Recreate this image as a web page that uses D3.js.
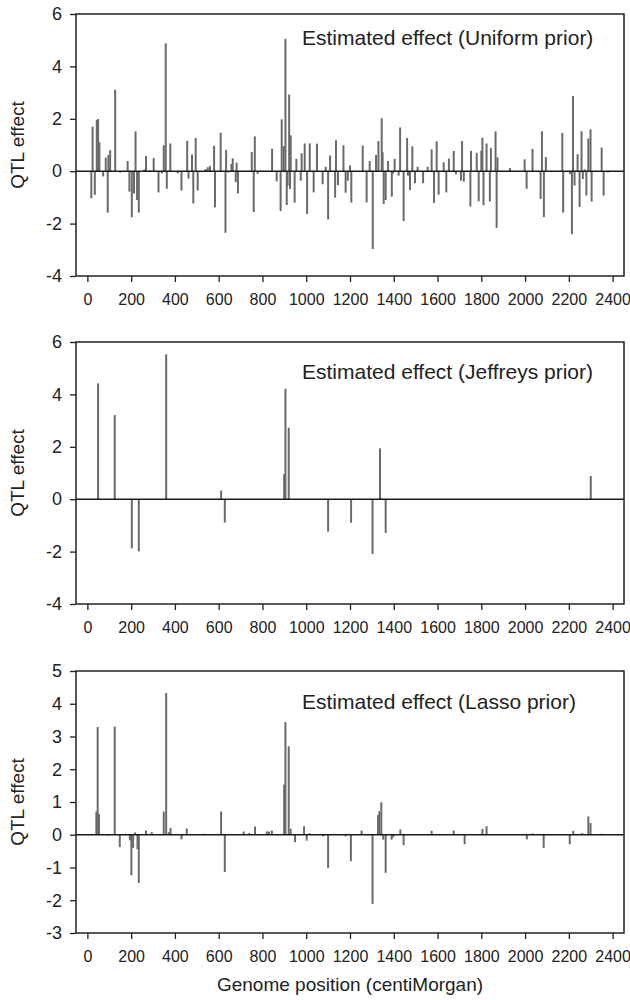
<!DOCTYPE html>
<html>
<head>
<meta charset="utf-8">
<script src="https://cdn.jsdelivr.net/npm/d3@7"></script>
<style>
  body { margin: 0; background: #fff; }
  svg { display: block; font-family: "Liberation Sans", Arial, sans-serif; }
</style>
</head>
<body>
<div id="vis"></div>
<script>
// genome positions (cM) and estimated QTL effects
const uniformPos = [18, 24, 34, 43, 49, 55, 72, 84, 93, 96, 104, 127, 150, 184, 192, 203, 213, 220, 227, 235,
  260, 268, 285, 303, 325, 341, 349, 358, 363, 379, 413, 430, 456, 462, 478, 484, 495, 504, 540, 550, 560,
  579, 583, 609, 631, 634, 643, 658, 664, 678, 682, 688, 751, 760, 765, 778, 844, 865, 883, 888, 897, 905,
  911, 915, 922, 926, 929, 947, 955, 975, 979, 993, 1004, 1016, 1034, 1049, 1075, 1089, 1100, 1109, 1132,
  1136, 1145, 1170, 1180, 1190, 1200, 1206, 1258, 1276, 1290, 1304, 1319, 1330, 1345, 1349, 1354, 1363,
  1374, 1391, 1396, 1404, 1422, 1429, 1445, 1461, 1465, 1474, 1485, 1497, 1509, 1534, 1555, 1573, 1584,
  1596, 1605, 1628, 1640, 1652, 1674, 1684, 1707, 1712, 1720, 1750, 1753, 1779, 1788, 1800, 1805, 1810,
  1824, 1839, 1844, 1865, 1870, 1874, 1931, 1998, 2007, 2034, 2071, 2077, 2086, 2095, 2170, 2174, 2205,
  2214, 2219, 2226, 2240, 2249, 2258, 2264, 2272, 2280, 2289, 2299, 2304, 2350, 2359, 2378];
const uniformEff = [-1.03, 1.7, -0.9, 1.95, 1.99, 1.11, -0.2, 0.52, -1.58, 0.62, 0.8, 3.11, -0.05, 0.39, -0.78,
  -1.76, -0.85, 1.52, -1.1, -1.58, 0.07, 0.58, 0.03, 0.5, -0.81, -0.08, 0.99, 4.88, -0.67, 1.06, -0.08,
  -0.74, 1.16, -0.28, 0.64, -1.23, 1.27, -0.74, 0.08, 0.15, 0.2,
  0.97, -1.38, 1.47, -2.35, 0.81, -0.05, 0.27, 0.49, -0.42, 0.33, -0.85, 0.73, -1.56, 1.33, -0.1, 0.86,
  -0.39, -1.52, 1.98, 0.96, 5.05, -1.29, -0.56, 2.93, -0.68, 1.37, -1.2, 0.47, -0.36, 0.68, 1.06, -1.63,
  1.06, -0.81, 1.05, -0.5, 0.17, -1.84, 0.6, -1.01, 1.18, -0.53, 0.99, -0.82, -0.36, 0.22, -1.2,
  0.98, -1.19, 0.39, -2.97, 0.62, 1.15, 2.02, 0.72, -1.25, -1.1, 0.39, -0.97, -0.1, 0.47, -0.17, 1.67,
  -1.9, 1.27, -0.17, -0.72, 0.95, -0.46, 0.17, -0.46, 0.17, 0.83, -1.21, 1.14, -0.9, 0.34, -0.81, 0.48,
  0.77, -0.12, -0.36, 1.15, -0.4, -1.35, 0.78, 0.7, -1.15, 0.78, 1.28, -1.3, 1.06, -1.16, 0.88, 1.52,
  -2.16, 0.53, 0.12, 0.45, -0.67, 0.85, -1.06, 1.52, -1.75, 0.54, 1.46, -1.58, -0.11, -2.4, 2.87, -0.55,
  0.65, -1.37, 1.53, -0.3, 0.07, -0.93, 1.25, 1.6, -1.16, 0.9, -0.93, -0.05];

const jeffreysPos = [49, 125, 203, 235, 360, 611, 628, 899, 905, 920, 1100, 1205, 1303, 1337, 1341, 1363, 2300];
const jeffreysEff = [4.42, 3.21, -1.88, -1.99, 5.53, 0.33, -0.89, 0.95, 4.21, 2.73, -1.24, -0.9, -2.09, 1.94, 0.05, -1.29, 0.89];

const lassoPos = [41, 47, 53, 95, 125, 148, 194, 201, 209, 218, 229, 235, 268, 294, 349, 360, 372, 380, 430,
  454, 530, 611, 628, 714, 740, 766, 820, 830, 843, 899, 905, 920, 929, 949, 990, 1002, 1015, 1078, 1100,
  1180, 1204, 1253, 1303, 1328, 1334, 1343, 1352, 1363, 1390, 1398, 1430, 1445, 1573, 1674, 1724, 1805,
  1824, 2008, 2034, 2085, 2204, 2220, 2260, 2289, 2299, 2350];
const lassoEff = [0.71, 3.29, 0.63, -0.03, 3.3, -0.38, -0.17, -1.24, -0.4, 0.07, -0.44, -1.47, 0.13, 0.08, 0.71,
  4.33, 0.08, 0.21, -0.14, 0.19, 0.03, 0.71, -1.14, 0.1, 0.05, 0.25, 0.1, 0.1, 0.13, 1.53, 3.44, 2.7, 0.18,
  -0.23, 0.26, -0.18, 0.05, -0.05, -1.02, -0.05, -0.81, 0.13, -2.11, 0.6, 0.72, 0.99, -0.15, -1.16, -0.15,
  -0.08, 0.16, -0.32, 0.12, 0.13, -0.29, 0.18, 0.26, -0.14, 0.04, -0.4, -0.29, 0.12, 0.05, 0.56, 0.36, 0.03];

const xTicks = [0, 200, 400, 600, 800, 1000, 1200, 1400, 1600, 1800, 2000, 2200, 2400];
const panelTitles = ['Estimated effect (Uniform prior)', 'Estimated effect (Jeffreys prior)', 'Estimated effect (Lasso prior)'];
const yDomains = [[-4, 6], [-4, 6], [-3, 5]];
const yTicks = [[-4, -2, 0, 2, 4, 6], [-4, -2, 0, 2, 4, 6], [-3, -2, -1, 0, 1, 2, 3, 4, 5]];
const yLabel = 'QTL effect';
const xLabel = 'Genome position (centiMorgan)';

let width = 630, height = 1000;
let plotLeft = 76, plotRight = 624, plotH = 262;
let panelTops = [14, 342, 671];
let titleDy = [31, 37, 38];

let svg = d3.select('#vis').append('svg')
  .attr('width', width)
  .attr('height', height);

let xScale = d3.scaleLinear()
  .domain([-52, 2452])
  .range([plotLeft, plotRight]);

let series = [
  {pos: uniformPos, eff: uniformEff},
  {pos: jeffreysPos, eff: jeffreysEff},
  {pos: lassoPos, eff: lassoEff}
];

series.forEach(function(s, i) {
  let top = panelTops[i];
  let yScale = d3.scaleLinear()
    .domain(yDomains[i])
    .range([top + plotH, top]);

  let g = svg.append('g');

  // bars from zero
  let pts = s.pos.map(function(p, j) { return {x: p, y: s.eff[j]}; });
  g.selectAll('line.bar')
    .data(pts)
    .enter().append('line')
    .attr('class', 'bar')
    .attr('x1', d => xScale(d.x))
    .attr('x2', d => xScale(d.x))
    .attr('y1', yScale(0))
    .attr('y2', d => yScale(d.y))
    .style('stroke', '#6a6a6a')
    .style('stroke-width', 2);

  // zero line
  g.append('line')
    .attr('x1', plotLeft).attr('x2', plotRight)
    .attr('y1', yScale(0)).attr('y2', yScale(0))
    .style('stroke', '#1a1a1a')
    .style('stroke-width', 1.5);

  // frame
  g.append('rect')
    .attr('x', plotLeft).attr('y', top)
    .attr('width', plotRight - plotLeft).attr('height', plotH)
    .style('fill', 'none')
    .style('stroke', '#222')
    .style('stroke-width', 1.5);

  // x axis
  let xAxis = g.append('g')
    .attr('transform', 'translate(0,' + (top + plotH) + ')')
    .call(d3.axisBottom(xScale).tickValues(xTicks).tickFormat(d => String(d))
      .tickSize(6).tickPadding(12).tickSizeOuter(0));
  xAxis.select('.domain').remove();
  xAxis.selectAll('line').style('stroke', '#222').style('stroke-width', 1.3);
  xAxis.selectAll('text').style('font-size', '16px').style('fill', '#222')
    .style('font-family', '"Liberation Sans", Arial, sans-serif');

  // y axis
  let yAxis = g.append('g')
    .attr('transform', 'translate(' + plotLeft + ',0)')
    .call(d3.axisLeft(yScale).tickValues(yTicks[i]).tickFormat(d => String(d))
      .tickSize(6).tickPadding(8).tickSizeOuter(0));
  yAxis.select('.domain').remove();
  yAxis.selectAll('line').style('stroke', '#222').style('stroke-width', 1.3);
  yAxis.selectAll('text').style('font-size', '18px').style('fill', '#222')
    .style('font-family', '"Liberation Sans", Arial, sans-serif');

  // y label
  g.append('text')
    .attr('transform', 'translate(24,' + (top + plotH / 2) + ') rotate(-90)')
    .attr('text-anchor', 'middle')
    .style('font-size', '19px')
    .style('fill', '#222')
    .text(yLabel);

  // panel title
  g.append('text')
    .attr('x', 302)
    .attr('y', top + titleDy[i])
    .style('font-size', '21px')
    .style('fill', '#222')
    .text(panelTitles[i]);
});

svg.append('text')
  .attr('x', (plotLeft + plotRight) / 2)
  .attr('y', 991)
  .attr('text-anchor', 'middle')
  .style('font-size', '19px')
  .style('fill', '#222')
  .text(xLabel);
</script>
</body>
</html>
